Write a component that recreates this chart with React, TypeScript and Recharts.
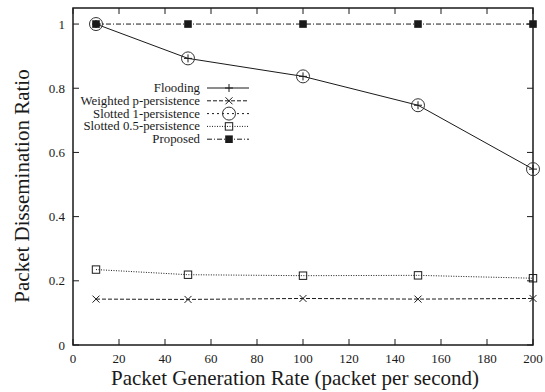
import React from 'react';
import { LineChart, Line, XAxis, YAxis, ReferenceArea, Legend } from 'recharts';

const rates = [10, 50, 100, 150, 200];
const flooding = [1, 0.893, 0.837, 0.747, 0.548];
const weighted = [0.143, 0.142, 0.145, 0.143, 0.145];
const slotted1 = [1, 0.893, 0.837, 0.747, 0.548];
const slotted05 = [0.235, 0.219, 0.216, 0.217, 0.208];
const proposed = [1, 1, 1, 1, 1];

const xTicks = [0, 20, 40, 60, 80, 100, 120, 140, 160, 180, 200];
const yTicks = [0, 0.2, 0.4, 0.6, 0.8, 1];
const yTickLabels = ['0', '0.2', '0.4', '0.6', '0.8', '1'];

const seriesNames = ['Flooding', 'Weighted p-persistence', 'Slotted 1-persistence', 'Slotted 0.5-persistence', 'Proposed'];

const data = rates.map((r, i) => ({
  rate: r,
  flooding: flooding[i],
  weighted: weighted[i],
  slotted1: slotted1[i],
  slotted05: slotted05[i],
  proposed: proposed[i],
}));

const FONT = '"Liberation Serif", "Times New Roman", serif';
const INK = '#1a1a1a';
const W = 545;
const H = 392;
const PLOT_LEFT = 73;
const PLOT_RIGHT = 533;
const PLOT_TOP = 8;
const PLOT_BOTTOM = 345;
const TICK = 6;

const Plus = ({ cx, cy }: any) => (
  <g stroke={INK} strokeWidth={1}>
    <line x1={cx - 4} y1={cy} x2={cx + 4} y2={cy} />
    <line x1={cx} y1={cy - 4} x2={cx} y2={cy + 4} />
  </g>
);
const Cross = ({ cx, cy }: any) => (
  <g stroke={INK} strokeWidth={1}>
    <line x1={cx - 3.5} y1={cy - 3.5} x2={cx + 3.5} y2={cy + 3.5} />
    <line x1={cx - 3.5} y1={cy + 3.5} x2={cx + 3.5} y2={cy - 3.5} />
  </g>
);
const Circ = ({ cx, cy }: any) => (
  <circle cx={cx} cy={cy} r={6.5} fill="none" stroke="#333" strokeWidth={1} />
);
const OpenSq = ({ cx, cy }: any) => (
  <rect x={cx - 3.7} y={cy - 3.7} width={7.4} height={7.4} fill="none" stroke={INK} strokeWidth={1} />
);
const FillSq = ({ cx, cy }: any) => (
  <rect x={cx - 3.8} y={cy - 3.8} width={7.6} height={7.6} fill={INK} stroke="none" />
);

const dashes = ['', '4 2', '2 3', '1 1.5', '5 2 1 2'];
const markers = [Plus, Cross, Circ, OpenSq, FillSq];

const XTick = ({ x, payload }: any) => (
  <g>
    <line x1={x} y1={PLOT_BOTTOM} x2={x} y2={PLOT_BOTTOM - TICK} stroke={INK} strokeWidth={1} />
    <line x1={x} y1={PLOT_TOP} x2={x} y2={PLOT_TOP + TICK} stroke={INK} strokeWidth={1} />
    <text x={x} y={PLOT_BOTTOM + 18} textAnchor="middle" fontSize={13} fontFamily={FONT} fill={INK}>
      {payload.value}
    </text>
  </g>
);

const YTick = ({ y, payload }: any) => {
  const idx = yTicks.indexOf(payload.value);
  return (
    <g>
      <line x1={PLOT_LEFT} y1={y} x2={PLOT_LEFT + TICK} y2={y} stroke={INK} strokeWidth={1} />
      <line x1={PLOT_RIGHT} y1={y} x2={PLOT_RIGHT - TICK} y2={y} stroke={INK} strokeWidth={1} />
      <text x={PLOT_LEFT - 8} y={y + 4.5} textAnchor="end" fontSize={13} fontFamily={FONT} fill={INK}>
        {idx >= 0 ? yTickLabels[idx] : payload.value}
      </text>
    </g>
  );
};

const LegendBox = () => (
  <svg width={260} height={160} style={{ display: 'block' }}>
    {seriesNames.map((name, i) => {
      const cy = 88 + i * 12.8;
      const M = markers[i];
      return (
        <g key={name}>
          <text x={200} y={cy + 4} textAnchor="end" fontSize={12.8} fontFamily={FONT} fill={INK}>
            {name}
          </text>
          <line x1={207} y1={cy} x2={249} y2={cy} stroke={INK} strokeWidth={1} strokeDasharray={dashes[i] || undefined} />
          <M cx={229} cy={cy} />
        </g>
      );
    })}
  </svg>
);

export default function App() {
  return (
    <div style={{ position: 'absolute', left: 0, top: 0, width: W, height: H, background: '#fff' }}>
      <LineChart width={W} height={H} data={data} margin={{ top: PLOT_TOP, right: W - PLOT_RIGHT, bottom: 0, left: 0 }}>
        <XAxis
          dataKey="rate"
          type="number"
          domain={[0, 200]}
          ticks={xTicks}
          tick={<XTick />}
          tickLine={false}
          axisLine={false}
          height={H - PLOT_BOTTOM}
          interval={0}
        />
        <YAxis
          type="number"
          domain={[0, 1.05]}
          ticks={yTicks}
          tick={<YTick />}
          tickLine={false}
          axisLine={false}
          width={PLOT_LEFT}
          interval={0}
        />
        <ReferenceArea x1={0} x2={200} y1={0} y2={1.05} fill="none" stroke={INK} strokeWidth={1.5} ifOverflow="visible" />
        <Line dataKey="flooding" stroke={INK} strokeWidth={1} dot={<Plus />} isAnimationActive={false} />
        <Line dataKey="weighted" stroke={INK} strokeWidth={1} strokeDasharray="4 2" dot={<Cross />} isAnimationActive={false} />
        <Line dataKey="slotted1" stroke="none" strokeWidth={1} dot={<Circ />} isAnimationActive={false} />
        <Line dataKey="slotted05" stroke={INK} strokeWidth={1} strokeDasharray="1 1.5" dot={<OpenSq />} isAnimationActive={false} />
        <Line dataKey="proposed" stroke={INK} strokeWidth={1} strokeDasharray="5 2 1 2" dot={<FillSq />} isAnimationActive={false} />
        <Legend
          content={<LegendBox />}
          layout="horizontal"
          verticalAlign="middle"
          align="center"
          wrapperStyle={{ left: 0, top: 0, width: 260, height: 160 }}
        />
      </LineChart>
      <svg width={W} height={H} style={{ position: 'absolute', left: 0, top: 0, pointerEvents: 'none' }}>
        <text x={295} y={385} textAnchor="middle" fontSize={21} fontFamily={FONT} fill={INK}>
          Packet Generation Rate (packet per second)
        </text>
        <text
          x={0}
          y={0}
          transform={`translate(29, 186) rotate(-90)`}
          textAnchor="middle"
          fontSize={21}
          fontFamily={FONT}
          fill={INK}
        >
          Packet Dissemination Ratio
        </text>
      </svg>
    </div>
  );
}
